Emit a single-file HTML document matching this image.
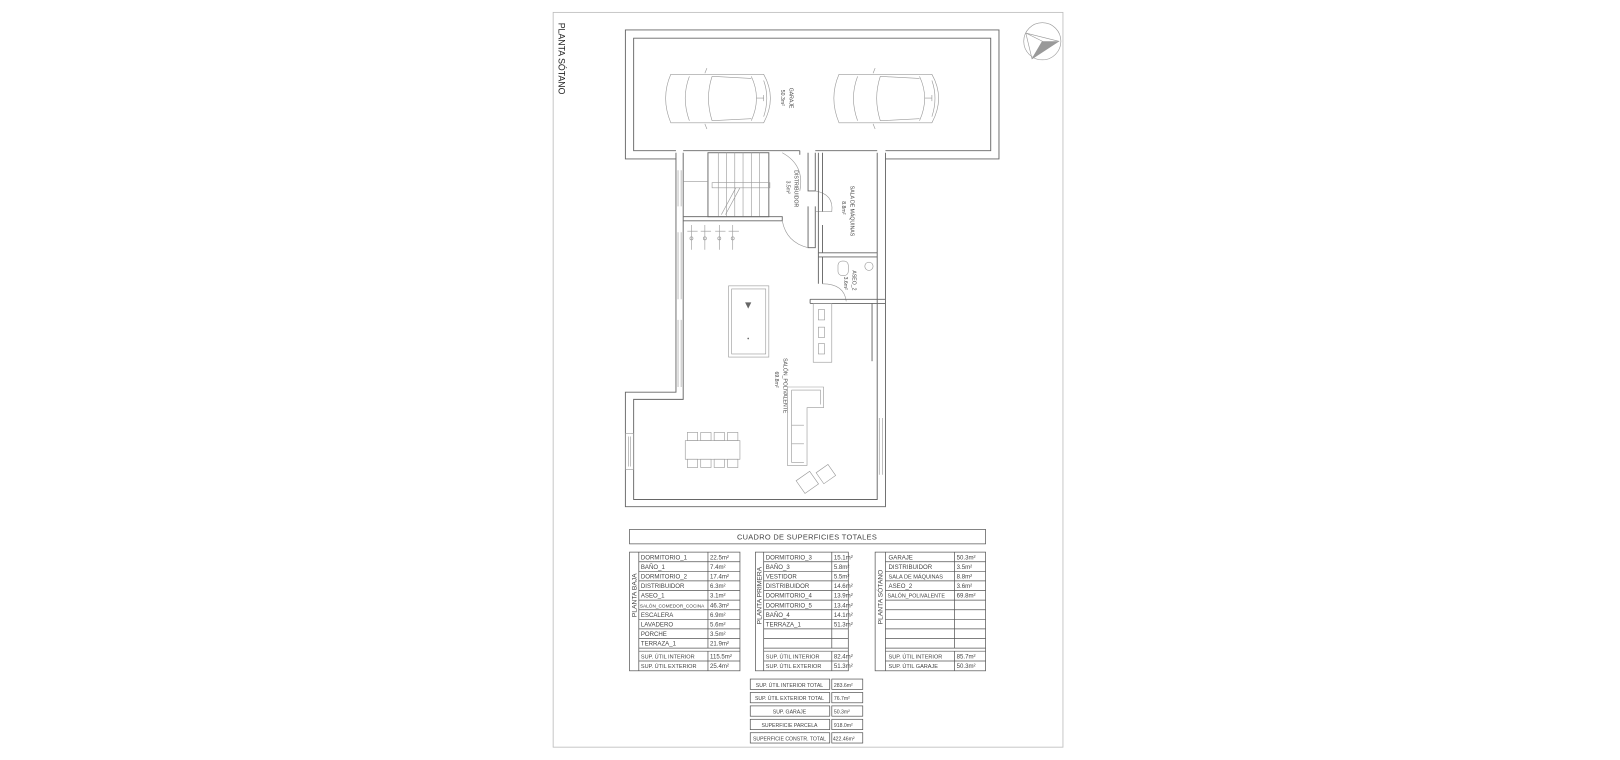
<!DOCTYPE html>
<html><head><meta charset="utf-8"><style>
html,body{margin:0;padding:0;background:#fff;width:1620px;height:760px;overflow:hidden}
svg{display:block}
text{font-family:"Liberation Sans",sans-serif;fill:#444}
.t{font-size:6px}
.w{fill:none;stroke:#666;stroke-width:0.9}
.d{fill:none;stroke:#999;stroke-width:0.6}
.tb{fill:none;stroke:#555;stroke-width:0.7}
</style></head><body>
<svg width="1620" height="760" viewBox="0 0 1620 760" xmlns="http://www.w3.org/2000/svg">
<g transform="scale(1.032)">
<rect x="536" y="12" width="494" height="712" fill="none" stroke="#bbb" stroke-width="0.8"/>
<text x="541" y="22" transform="rotate(90 541 22)" style="font-size:8.5px;fill:#222">PLANTA SÓTANO</text>
<circle cx="1010" cy="40" r="18" class="d"/>
<path d="M994 32 L1026 40 L1000 57 Z M994 32 L1010 40 L1000 57" class="d"/>
<path d="M1010 40 L1026 40 L1000 57 Z" fill="#999"/>

<path class="w" d="M655 154 L606 154 L606 29 L968 29 L968 154 L858 154"/>
<path class="w" d="M655 146 L614 146 L614 37 L960 37 L960 146 L858 146"/>
<path class="w" d="M662 146 L775 146 M790 146 L850 146"/>
<g class="d">
<path d="M650 72 Q640 95 650 119 L740 119 Q753 95 740 72 Z"/>
<path d="M668 74 Q660 95 668 117 M690 74 Q683 95 690 117 M728 74 Q738 95 728 117 M740 78 Q746 95 740 113"/>
<path d="M690 74 L728 76 M690 117 L728 115 M683 71 L685 66 M683 120 L685 125 M740 95 L733 95 M740 92 L740 98"/>
<path d="M813 72 Q803 95 813 119 L903 119 Q916 95 903 72 Z"/>
<path d="M831 74 Q823 95 831 117 M853 74 Q846 95 853 117 M891 74 Q901 95 891 117 M903 78 Q909 95 903 113"/>
<path d="M853 74 L891 76 M853 117 L891 115 M846 71 L848 66 M846 120 L848 125 M903 95 L896 95 M903 92 L903 98"/>
</g>
<text x="765" y="85" transform="rotate(90 765 85)" style="font-size:5px">GARAJE</text>
<text x="757" y="87" transform="rotate(90 757 87)" style="font-size:5px">50.3m²</text>

<path class="w" d="M655 148 L655 380 L606 380 L606 491 L858 491 L858 148"/>
<path class="w" d="M662 148 L662 387 L614 387 L614 484 L850 484 L850 148"/>
<path class="d" d="M657 165 L657 200 M660 165 L660 200 M657 225 L657 290 M660 225 L660 290 M657 310 L657 375 M660 310 L660 375"/>
<rect x="606" y="420" width="8" height="35" class="d"/>
<path class="d" d="M609 423 L609 452 M611 423 L611 452"/>
<path class="d" d="M852 405 L852 460 M855 405 L855 460"/>

<rect x="686" y="148" width="59" height="62" class="w"/>
<path class="d" d="M696 148 V210 M704 148 V210 M712 148 V210 M720 148 V210 M728 148 V210 M736 148 V210"/>
<path class="d" d="M662 176 H686 M662 210 H686"/>
<rect x="690" y="177" width="56" height="5" class="d"/>
<path class="d" d="M713 182 L699 208 M717 182 L703 208"/>
<path class="w" d="M662 210 H758 V214 H662"/>
<g class="d">
<path d="M670 218 V242 M666 224 H676 M683 218 V242 M679 224 H689 M697 218 V242 M693 224 H703 M710 218 V242 M706 224 H716"/>
<circle cx="670" cy="231" r="1.5"/><circle cx="683" cy="231" r="1.5"/><circle cx="697" cy="231" r="1.5"/><circle cx="710" cy="231" r="1.5"/>
</g>
<path class="w" d="M775 146 V150 M783 148 V185 H790 V148 M783 200 V240 H790 V200"/>
<path class="d" d="M758 148 Q780 160 775 185 M758 214 Q762 235 783 240 M790 185 Q808 188 806 205 H790"/>
<text x="770" y="165" transform="rotate(90 770 165)" style="font-size:5px">DISTRIBUIDOR</text>
<text x="762" y="175" transform="rotate(90 762 175)" style="font-size:5px">3.5m²</text>
<path class="w" d="M793 148 V245 H850 M797 148 V205 M797 218 V245"/>
<text x="824" y="180" transform="rotate(90 824 180)" style="font-size:5px">SALA DE MÁQUINAS</text>
<text x="816" y="195" transform="rotate(90 816 195)" style="font-size:5px">8.8m²</text>
<path class="w" d="M793 249 H850 M793 245 V275 M797 249 V275"/>
<rect x="812" y="253" width="10" height="14" rx="4" class="d"/>
<circle cx="842" cy="258" r="4" class="d"/>
<path class="d" d="M797 275 Q818 275 820 292"/>
<text x="826" y="262" transform="rotate(90 826 262)" style="font-size:5px">ASEO_2</text>
<text x="818" y="268" transform="rotate(90 818 268)" style="font-size:5px">3.6m²</text>
<path class="w" d="M785 290 H858 M785 294 H858 M785 290 V294"/>
<rect x="788" y="294" width="18" height="57" class="d"/>
<rect x="793" y="300" width="6" height="10" class="d"/>
<rect x="793" y="317" width="6" height="10" class="d"/>
<rect x="793" y="333" width="6" height="10" class="d"/>
<path class="w" d="M845 294 V350"/>
<rect x="706" y="277" width="39" height="69" class="d"/>
<rect x="709" y="280" width="33" height="63" class="d"/>
<path d="M722 293 L728 293 L725 299 Z" fill="#666"/>
<circle cx="725" cy="328" r="0.8" fill="#666"/>
<text x="759" y="347" transform="rotate(90 759 347)" style="font-size:5px">SALÓN_POLIVALENTE</text>
<text x="751" y="360" transform="rotate(90 751 360)" style="font-size:5px">69.8m²</text>
<path class="d" d="M763 375 H798 V395 H782 V451 H763 Z M767 378 H795 V392 M767 378 V448 H779 M767 412 H779 M767 430 H779"/>
<rect x="664" y="427" width="53" height="18" class="d"/>
<g class="d">
<rect x="666" y="419" width="10" height="8"/><rect x="679" y="419" width="10" height="8"/><rect x="692" y="419" width="10" height="8"/><rect x="705" y="419" width="10" height="8"/>
<rect x="666" y="445" width="10" height="8"/><rect x="679" y="445" width="10" height="8"/><rect x="692" y="445" width="10" height="8"/><rect x="705" y="445" width="10" height="8"/>
</g>
<g class="d">
<rect x="774" y="460" width="16" height="15" transform="rotate(-35 782 467)"/>
<rect x="793" y="453" width="14" height="13" transform="rotate(-35 800 459)"/>
</g>

<rect x="610" y="513" width="345" height="14" class="tb"/>
<text x="782" y="523" text-anchor="middle" style="font-size:7.2px;letter-spacing:0.3px">CUADRO  DE  SUPERFICIES  TOTALES</text>

<g class="tb">
<rect x="610" y="535" width="107" height="115"/>
<path d="M619 535 V650 M686 535 V628 M686 631 V650 M619 628 H717 M619 631 H717 M619 640.5 H717"/>
<path d="M619 544.3 H717 M619 553.6 H717 M619 562.9 H717 M619 572.2 H717 M619 581.5 H717 M619 590.8 H717 M619 600.1 H717 M619 609.4 H717 M619 618.7 H717"/>
<rect x="732" y="535" width="90" height="115"/>
<path d="M740 535 V650 M806 535 V628 M806 631 V650 M740 628 H822 M740 631 H822 M740 640.5 H822"/>
<path d="M740 544.3 H822 M740 553.6 H822 M740 562.9 H822 M740 572.2 H822 M740 581.5 H822 M740 590.8 H822 M740 600.1 H822 M740 609.4 H822 M740 618.7 H822"/>
<rect x="848" y="535" width="107" height="115"/>
<path d="M858 535 V650 M925 535 V628 M925 631 V650 M858 628 H955 M858 631 H955 M858 640.5 H955"/>
<path d="M858 544.3 H955 M858 553.6 H955 M858 562.9 H955 M858 572.2 H955 M858 581.5 H955 M858 590.8 H955 M858 600.1 H955 M858 609.4 H955 M858 618.7 H955"/>
<rect x="727" y="658" width="77" height="10"/><rect x="806" y="658" width="30" height="10"/>
<rect x="727" y="671" width="77" height="10"/><rect x="806" y="671" width="30" height="10"/>
<rect x="727" y="684" width="77" height="10"/><rect x="806" y="684" width="30" height="10"/>
<rect x="727" y="697" width="77" height="10"/><rect x="806" y="697" width="30" height="10"/>
<rect x="727" y="710" width="77" height="10"/><rect x="806" y="710" width="30" height="10"/>
</g>

<g style="font-size:5.9px">
<text x="617" y="598" transform="rotate(-90 617 598)" style="font-size:6.5px">PLANTA  BAJA</text>
<text x="738" y="605" transform="rotate(-90 738 605)" style="font-size:6.5px">PLANTA  PRIMERA</text>
<text x="855" y="605" transform="rotate(-90 855 605)" style="font-size:6.5px">PLANTA  SÓTANO</text>

<text x="621" y="542">DORMITORIO_1</text><text x="688" y="542">22.5m²</text>
<text x="621" y="551.3">BAÑO_1</text><text x="688" y="551.3">7.4m²</text>
<text x="621" y="560.6">DORMITORIO_2</text><text x="688" y="560.6">17.4m²</text>
<text x="621" y="569.9">DISTRIBUIDOR</text><text x="688" y="569.9">6.3m²</text>
<text x="621" y="579.2">ASEO_1</text><text x="688" y="579.2">3.1m²</text>
<text x="620" y="588.5" style="font-size:4.6px">SALÓN_COMEDOR_COCINA</text><text x="688" y="588.5">46.3m²</text>
<text x="621" y="597.8">ESCALERA</text><text x="688" y="597.8">6.9m²</text>
<text x="621" y="607.1">LAVADERO</text><text x="688" y="607.1">5.6m²</text>
<text x="621" y="616.4">PORCHE</text><text x="688" y="616.4">3.5m²</text>
<text x="621" y="625.7">TERRAZA_1</text><text x="688" y="625.7">21.9m²</text>
<text x="621" y="638" style="font-size:5.4px">SUP. ÚTIL INTERIOR</text><text x="688" y="638">115.5m²</text>
<text x="621" y="647.5" style="font-size:5.4px">SUP. ÚTIL EXTERIOR</text><text x="688" y="647.5">25.4m²</text>

<text x="742" y="542">DORMITORIO_3</text><text x="808" y="542">15.1m²</text>
<text x="742" y="551.3">BAÑO_3</text><text x="808" y="551.3">5.8m²</text>
<text x="742" y="560.6">VESTIDOR</text><text x="808" y="560.6">5.5m²</text>
<text x="742" y="569.9">DISTRIBUIDOR</text><text x="808" y="569.9">14.6m²</text>
<text x="742" y="579.2">DORMITORIO_4</text><text x="808" y="579.2">13.9m²</text>
<text x="742" y="588.5">DORMITORIO_5</text><text x="808" y="588.5">13.4m²</text>
<text x="742" y="597.8">BAÑO_4</text><text x="808" y="597.8">14.1m²</text>
<text x="742" y="607.1">TERRAZA_1</text><text x="808" y="607.1">51.3m²</text>
<text x="742" y="638" style="font-size:5.4px">SUP. ÚTIL INTERIOR</text><text x="808" y="638">82.4m²</text>
<text x="742" y="647.5" style="font-size:5.4px">SUP. ÚTIL EXTERIOR</text><text x="808" y="647.5">51.3m²</text>

<text x="861" y="542">GARAJE</text><text x="927" y="542">50.3m²</text>
<text x="861" y="551.3">DISTRIBUIDOR</text><text x="927" y="551.3">3.5m²</text>
<text x="861" y="560.6" style="font-size:5.4px">SALA DE MÁQUINAS</text><text x="927" y="560.6">8.8m²</text>
<text x="861" y="569.9">ASEO_2</text><text x="927" y="569.9">3.6m²</text>
<text x="860" y="579.2" style="font-size:5.2px">SALÓN_POLIVALENTE</text><text x="927" y="579.2">69.8m²</text>
<text x="861" y="638" style="font-size:5.4px">SUP. ÚTIL INTERIOR</text><text x="927" y="638">85.7m²</text>
<text x="861" y="647.5" style="font-size:5.4px">SUP. ÚTIL GARAJE</text><text x="927" y="647.5">50.3m²</text>

<g style="font-size:5px">
<text x="765" y="665.5" text-anchor="middle">SUP. ÚTIL INTERIOR TOTAL</text><text x="808" y="665.5">283.6m²</text>
<text x="765" y="678.5" text-anchor="middle">SUP. ÚTIL EXTERIOR TOTAL</text><text x="808" y="678.5">76.7m²</text>
<text x="765" y="691.5" text-anchor="middle">SUP. GARAJE</text><text x="808" y="691.5">50.3m²</text>
<text x="765" y="704.5" text-anchor="middle">SUPERFICIE PARCELA</text><text x="808" y="704.5">918.0m²</text>
<text x="765" y="717.5" text-anchor="middle">SUPERFICIE CONSTR. TOTAL</text><text x="807" y="717.5">422.46m²</text>
</g>
</g>
</g>
</svg>
</body></html>
